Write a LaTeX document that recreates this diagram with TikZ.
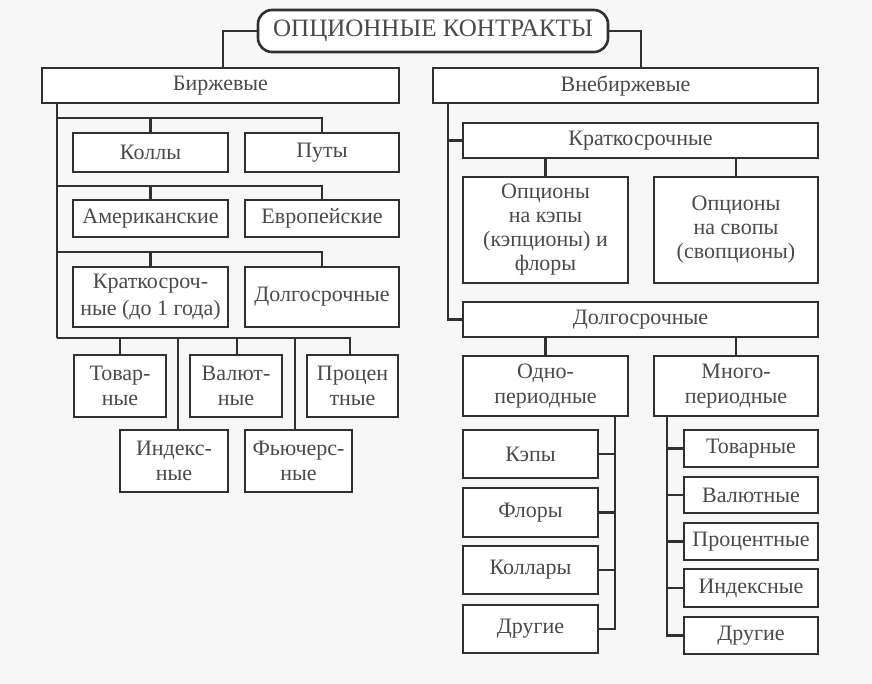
\documentclass[tikz,border=0pt]{standalone}
\usepackage{fontspec}
\setmainfont{Liberation Serif}
\definecolor{bg}{HTML}{F7F7F7}
\definecolor{ln}{HTML}{303030}
\definecolor{tx}{HTML}{4A4A4A}
\begin{document}
\begin{tikzpicture}[x=1pt,y=-1pt,
  bx/.style={draw=ln, line width=2.6pt, fill=white, inner sep=0pt, align=center, text=tx,
    font=\fontsize{22}{25}\selectfont},
  ttl/.style={bx, rounded corners=14pt, font=\fontsize{25}{28}\selectfont},
  conn/.style={draw=ln, line width=2.6pt}]
\fill[bg] (0,0) rectangle (872,684);
\useasboundingbox (0,0) rectangle (872,684);
% title and level 1
\node[ttl, minimum width=350pt, minimum height=42pt] (title) at (433,31) {ОПЦИОННЫЕ КОНТРАКТЫ};
\node[bx, minimum width=357pt, minimum height=35pt] (birzh) at (220.5,85.5) {Биржевые};
\node[bx, minimum width=385pt, minimum height=35pt] (vneb) at (625.5,85.5) {Внебиржевые};
% left side
\node[bx, minimum width=155pt, minimum height=39pt] (kolly) at (150.5,152.5) {Коллы};
\node[bx, minimum width=154pt, minimum height=39pt] (puty) at (322,152.5) {Путы};
\node[bx, minimum width=155pt, minimum height=37pt] (amer) at (150.5,218.5) {Американские};
\node[bx, minimum width=154pt, minimum height=37pt] (evro) at (322,218.5) {Европейские};
\node[bx, minimum width=155pt, minimum height=60pt, font=\fontsize{22}{27}\selectfont] (kratk) at (150.5,297) {Краткосроч-\\ные (до 1 года)};
\node[bx, minimum width=154pt, minimum height=60pt] (dolg) at (322,297) {Долгосрочные};
\node[bx, minimum width=92pt, minimum height=62pt] (tovar) at (120,386) {Товар-\\ные};
\node[bx, minimum width=92pt, minimum height=62pt] (valut) at (236,386) {Валют-\\ные};
\node[bx, minimum width=91pt, minimum height=62pt] (proc) at (352.5,386) {Процен\\тные};
\node[bx, minimum width=108pt, minimum height=62pt] (index) at (174,461) {Индекс-\\ные};
\node[bx, minimum width=107pt, minimum height=62pt] (fut) at (298.5,461) {Фьючерс-\\ные};
% right side
\node[bx, minimum width=355pt, minimum height=35pt] (krat2) at (640.5,140.5) {Краткосрочные};
\node[bx, minimum width=165pt, minimum height=106pt, font=\fontsize{22}{24}\selectfont] (kep) at (545.5,230) {Опционы\\на кэпы\\(кэпционы) и\\флоры};
\node[bx, minimum width=164pt, minimum height=106pt, font=\fontsize{22}{24}\selectfont] (svop) at (736,230) {Опционы\\на свопы\\(свопционы)};
\node[bx, minimum width=355pt, minimum height=35pt] (dolg2) at (640.5,319.5) {Долгосрочные};
\node[bx, minimum width=165pt, minimum height=60pt] (odno) at (545.5,386) {Одно-\\периодные};
\node[bx, minimum width=164pt, minimum height=60pt] (mnogo) at (736,386) {Много-\\периодные};
\node[bx, minimum width=135pt, minimum height=48pt] (kepy) at (530.5,454) {Кэпы};
\node[bx, minimum width=135pt, minimum height=49pt] (flory) at (530.5,512.5) {Флоры};
\node[bx, minimum width=135pt, minimum height=48pt] (kollary) at (530.5,570) {Коллары};
\node[bx, minimum width=135pt, minimum height=48pt] (drug1) at (530.5,629) {Другие};
\node[bx, minimum width=134pt, minimum height=37pt] (tov2) at (751,448.5) {Товарные};
\node[bx, minimum width=134pt, minimum height=36pt] (val2) at (751,495) {Валютные};
\node[bx, minimum width=134pt, minimum height=37pt] (proc2) at (751,541.5) {Процентные};
\node[bx, minimum width=134pt, minimum height=38pt] (ind2) at (751,588) {Индексные};
\node[bx, minimum width=134pt, minimum height=37pt] (drug2) at (751,635.5) {Другие};
% coordinates
\coordinate (lt) at (57,103);
\coordinate (rt) at (448,103);
\coordinate (ot) at (615,416);
\coordinate (mt) at (667,416);
% connectors: top
\draw[conn] (title.west) -| (birzh.north -| 223,0);
\draw[conn] (title.east) -| (vneb.north -| 641,0);
% left trunk
\draw[conn] (lt) -- (lt |- 0,338);
\draw[conn] (lt |- 0,118) -| (puty.north);
\draw[conn] (kolly.north |- 0,118) -- (kolly.north);
\draw[conn] (lt |- 0,186) -| (evro.north);
\draw[conn] (amer.north |- 0,186) -- (amer.north);
\draw[conn] (lt |- 0,252) -| (dolg.north);
\draw[conn] (kratk.north |- 0,252) -- (kratk.north);
\draw[conn] (lt |- 0,338) -| (proc.north -| 350,0);
\draw[conn] (120,338) -- (tovar.north -| 120,0);
\draw[conn] (237,338) -- (valut.north -| 237,0);
\draw[conn] (178,338) -- (index.north -| 178,0);
\draw[conn] (295,338) -- (fut.north -| 295,0);
% right trunk
\draw[conn] (rt) |- (dolg2.west);
\draw[conn] (rt |- krat2.west) -- (krat2.west);
\draw[conn] (kep.north |- krat2.south) -- (kep.north);
\draw[conn] (svop.north |- krat2.south) -- (svop.north);
\draw[conn] (odno.north |- dolg2.south) -- (odno.north);
\draw[conn] (mnogo.north |- dolg2.south) -- (mnogo.north);
\draw[conn] (ot) |- (drug1.east);
\draw[conn] (kepy.east) -- (ot |- kepy.east);
\draw[conn] (flory.east) -- (ot |- flory.east);
\draw[conn] (kollary.east) -- (ot |- kollary.east);
\draw[conn] (mt) |- (drug2.west);
\draw[conn] (tov2.west) -- (mt |- tov2.west);
\draw[conn] (val2.west) -- (mt |- val2.west);
\draw[conn] (proc2.west) -- (mt |- proc2.west);
\draw[conn] (ind2.west) -- (mt |- ind2.west);
\end{tikzpicture}
\end{document}
